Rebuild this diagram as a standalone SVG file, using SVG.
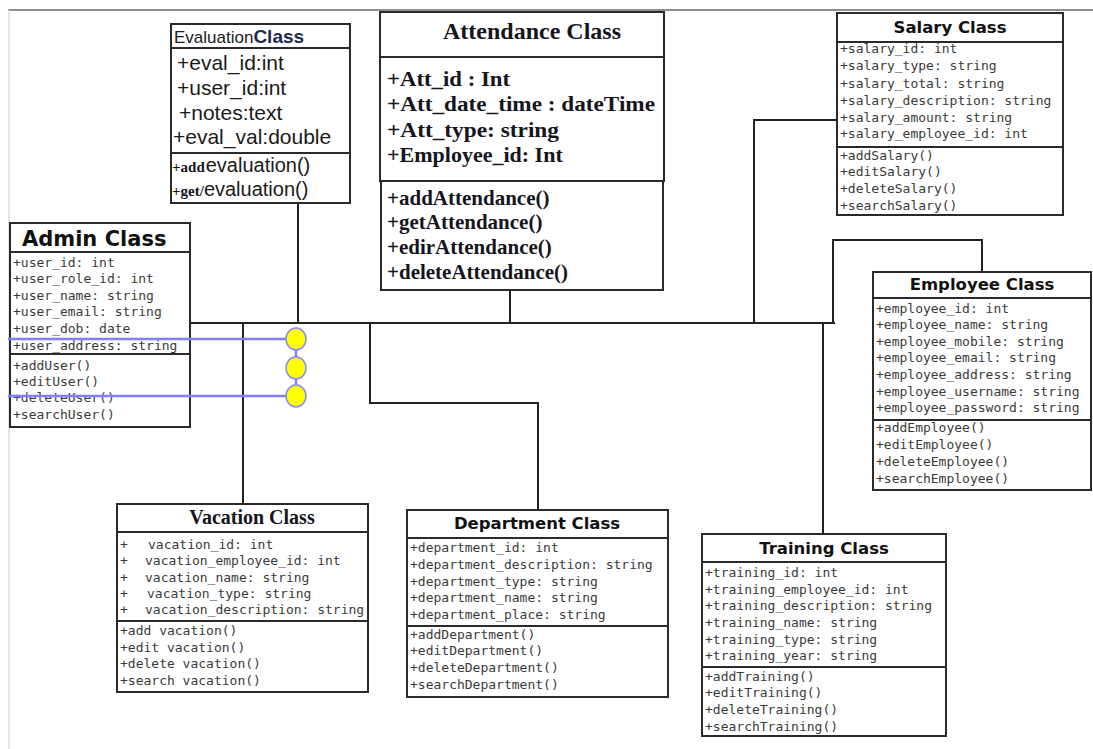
<svg xmlns="http://www.w3.org/2000/svg" width="1093" height="749" viewBox="0 0 1093 749">
<style>
.box{fill:#fff;stroke:#2a2a2a;stroke-width:2}
.sep{stroke:#2a2a2a;stroke-width:2}
.hd{font-family:"DejaVu Sans",sans-serif;font-weight:bold;font-size:16.5px;fill:#111;text-anchor:middle}
.hl{font-family:"DejaVu Sans",sans-serif;font-weight:bold;font-size:21px;fill:#111;text-anchor:start}
.m{font-family:"DejaVu Sans Mono","Liberation Mono",monospace;font-size:13px;fill:#3a3a3a}
.ser{font-family:"Liberation Serif",serif;font-weight:bold;fill:#151520}
.sans{font-family:"Liberation Sans",sans-serif;fill:#1a1a1a}
.conn{fill:none;stroke:#222;stroke-width:2}
.blue{stroke:#8080ff;stroke-width:2.5;fill:none}
.dot{fill:#ffff00;stroke:#8a8aff;stroke-width:1.5}
</style>
<rect width="1093" height="749" fill="#fff"/>
<g id="frame">
<line x1="8" y1="10" x2="1093" y2="10" stroke="#6a6a6a" stroke-width="1.5"/>
<line x1="9" y1="10" x2="9" y2="749" stroke="#d4dcec" stroke-width="1.5"/>
</g>
<g id="connectors">
<path class="conn" d="M190,323 H835"/>
<path class="conn" d="M190,323 H225" stroke-width="3"/>
<path class="conn" d="M298,203 V323"/>
<path class="conn" d="M243,323 V504"/>
<path class="conn" d="M370,323 V403 H538 V510"/>
<path class="conn" d="M510,290 V323"/>
<path class="conn" d="M754,323 V120 H837"/>
<path class="conn" d="M833,323 V240 H982 V272"/>
<path class="conn" d="M823,323 V534"/>
</g>
<g id="evaluation">
<rect class="box" x="171" y="24" width="179" height="179"/>
<line class="sep" x1="171" y1="48" x2="350" y2="48"/>
<line class="sep" x1="171" y1="153" x2="350" y2="153" stroke="#777"/>
<text class="sans" x="174" y="43" font-size="17">Evaluation<tspan font-weight="bold" font-size="19" fill="#1c2b4a">Class</tspan></text>
<text class="sans" x="177" y="70" font-size="21">+eval_id:int</text>
<text class="sans" x="177" y="95" font-size="21">+user_id:int</text>
<text class="sans" x="179" y="120" font-size="21">+notes:text</text>
<text class="sans" x="173" y="144" font-size="21">+eval_val:double</text>
<text x="172" y="172"><tspan class="ser" font-size="15" fill="#8a4a20">+add</tspan><tspan class="sans" font-size="20" dx="1">evaluation()</tspan></text>
<text x="172" y="196"><tspan class="ser" font-size="15" fill="#8a4a20">+get/</tspan><tspan class="sans" font-size="20">evaluation()</tspan></text>
</g>
<g id="attendance">
<rect class="box" x="381" y="181" width="282" height="109" stroke-width="1.5"/>
<rect class="box" x="380" y="12" width="284" height="169" stroke-width="2.5" fill="none"/>
<line class="sep" x1="380" y1="57" x2="664" y2="57"/>
<text class="ser" x="532" y="39" font-size="24" text-anchor="middle">Attendance Class</text>
<text class="ser" x="387" y="86" font-size="22" textLength="123" lengthAdjust="spacingAndGlyphs">+Att_id : Int</text>
<text class="ser" x="387" y="111" font-size="22" textLength="268" lengthAdjust="spacingAndGlyphs">+Att_date_time : dateTime</text>
<text class="ser" x="387" y="137" font-size="22" textLength="172" lengthAdjust="spacingAndGlyphs">+Att_type: string</text>
<text class="ser" x="387" y="162" font-size="22">+Employee_id: Int</text>
<text class="ser" x="387" y="205" font-size="21">+addAttendance()</text>
<text class="ser" x="387" y="229" font-size="21">+getAttendance()</text>
<text class="ser" x="387" y="254" font-size="21">+edirAttendance()</text>
<text class="ser" x="387" y="279" font-size="21">+deleteAttendance()</text>
</g>
<g id="salary">
<rect class="box" x="837" y="13" width="226" height="202"/>
<line class="sep" x1="837" y1="42" x2="1063" y2="42"/>
<line class="sep" x1="837" y1="147" x2="1063" y2="147"/>
<text class="hd" x="950" y="33">Salary Class</text>
<text class="m" x="840" y="53">+salary_id: int</text>
<text class="m" x="840" y="70">+salary_type: string</text>
<text class="m" x="840" y="88">+salary_total: string</text>
<text class="m" x="840" y="105">+salary_description: string</text>
<text class="m" x="840" y="122">+salary_amount: string</text>
<text class="m" x="840" y="138">+salary_employee_id: int</text>
<text class="m" x="840" y="160">+addSalary()</text>
<text class="m" x="840" y="176">+editSalary()</text>
<text class="m" x="840" y="193">+deleteSalary()</text>
<text class="m" x="840" y="210">+searchSalary()</text>
</g>
<g id="admin">
<rect class="box" x="10" y="223" width="180" height="204"/>
<line class="sep" x1="10" y1="252" x2="190" y2="252"/>
<line class="sep" x1="10" y1="354" x2="190" y2="354"/>
<text class="hl" x="22" y="246">Admin Class</text>
<text class="m" x="13" y="267">+user_id: int</text>
<text class="m" x="13" y="283">+user_role_id: int</text>
<text class="m" x="13" y="300">+user_name: string</text>
<text class="m" x="13" y="316">+user_email: string</text>
<text class="m" x="13" y="333">+user_dob: date</text>
<text class="m" x="13" y="350">+user_address: string</text>
<text class="m" x="13" y="370">+addUser()</text>
<text class="m" x="13" y="386">+editUser()</text>
<text class="m" x="13" y="402">+deleteUser()</text>
<text class="m" x="13" y="419">+searchUser()</text>
</g>
<g id="employee">
<rect class="box" x="873" y="272" width="218" height="218"/>
<line class="sep" x1="873" y1="298" x2="1091" y2="298"/>
<line class="sep" x1="873" y1="420" x2="1091" y2="420"/>
<text class="hd" x="982" y="290">Employee Class</text>
<text class="m" x="876" y="313">+employee_id: int</text>
<text class="m" x="876" y="329">+employee_name: string</text>
<text class="m" x="876" y="346">+employee_mobile: string</text>
<text class="m" x="876" y="362">+employee_email: string</text>
<text class="m" x="876" y="379">+employee_address: string</text>
<text class="m" x="876" y="396">+employee_username: string</text>
<text class="m" x="876" y="412">+employee_password: string</text>
<text class="m" x="876" y="432">+addEmployee()</text>
<text class="m" x="876" y="449">+editEmployee()</text>
<text class="m" x="876" y="466">+deleteEmployee()</text>
<text class="m" x="876" y="483">+searchEmployee()</text>
</g>
<g id="vacation">
<rect class="box" x="117" y="504" width="251" height="188"/>
<line class="sep" x1="117" y1="532" x2="368" y2="532"/>
<line class="sep" x1="117" y1="621" x2="368" y2="621"/>
<text class="ser" x="252" y="524" font-size="20" text-anchor="middle">Vacation Class</text>
<text class="m" x="120" y="549">+</text><text class="m" x="148" y="549">vacation_id: int</text>
<text class="m" x="120" y="565">+</text><text class="m" x="145" y="565">vacation_employee_id: int</text>
<text class="m" x="120" y="582">+</text><text class="m" x="145" y="582">vacation_name: string</text>
<text class="m" x="120" y="598">+</text><text class="m" x="147" y="598">vacation_type: string</text>
<text class="m" x="120" y="614">+</text><text class="m" x="145" y="614">vacation_description: string</text>
<text class="m" x="120" y="635">+add vacation()</text>
<text class="m" x="120" y="652">+edit vacation()</text>
<text class="m" x="120" y="668">+delete vacation()</text>
<text class="m" x="120" y="685">+search vacation()</text>
</g>
<g id="department">
<rect class="box" x="407" y="510" width="261" height="187"/>
<line class="sep" x1="407" y1="538" x2="668" y2="538"/>
<line class="sep" x1="407" y1="626" x2="668" y2="626"/>
<text class="hd" x="537" y="529">Department Class</text>
<text class="m" x="410" y="552">+department_id: int</text>
<text class="m" x="410" y="569">+department_description: string</text>
<text class="m" x="410" y="586">+department_type: string</text>
<text class="m" x="410" y="602">+department_name: string</text>
<text class="m" x="410" y="619">+department_place: string</text>
<text class="m" x="410" y="639">+addDepartment()</text>
<text class="m" x="410" y="655">+editDepartment()</text>
<text class="m" x="410" y="672">+deleteDepartment()</text>
<text class="m" x="410" y="689">+searchDepartment()</text>
</g>
<g id="training">
<rect class="box" x="702" y="534" width="244" height="202"/>
<line class="sep" x1="702" y1="562" x2="946" y2="562"/>
<line class="sep" x1="702" y1="667" x2="946" y2="667"/>
<text class="hd" x="824" y="554">Training Class</text>
<text class="m" x="705" y="577">+training_id: int</text>
<text class="m" x="705" y="594">+training_employee_id: int</text>
<text class="m" x="705" y="610">+training_description: string</text>
<text class="m" x="705" y="627">+training_name: string</text>
<text class="m" x="705" y="644">+training_type: string</text>
<text class="m" x="705" y="660">+training_year: string</text>
<text class="m" x="705" y="681">+addTraining()</text>
<text class="m" x="705" y="697">+editTraining()</text>
<text class="m" x="705" y="714">+deleteTraining()</text>
<text class="m" x="705" y="731">+searchTraining()</text>
</g>
<g id="markers">
<line class="blue" x1="8" y1="339" x2="286" y2="339"/>
<line class="blue" x1="8" y1="396" x2="286" y2="396"/>
<line class="blue" x1="296" y1="350" x2="296" y2="385" stroke-width="2"/>
<ellipse class="dot" cx="296" cy="339" rx="10" ry="11"/>
<ellipse class="dot" cx="296" cy="368" rx="10" ry="11"/>
<ellipse class="dot" cx="296" cy="396" rx="10" ry="11"/>
</g>
</svg>
